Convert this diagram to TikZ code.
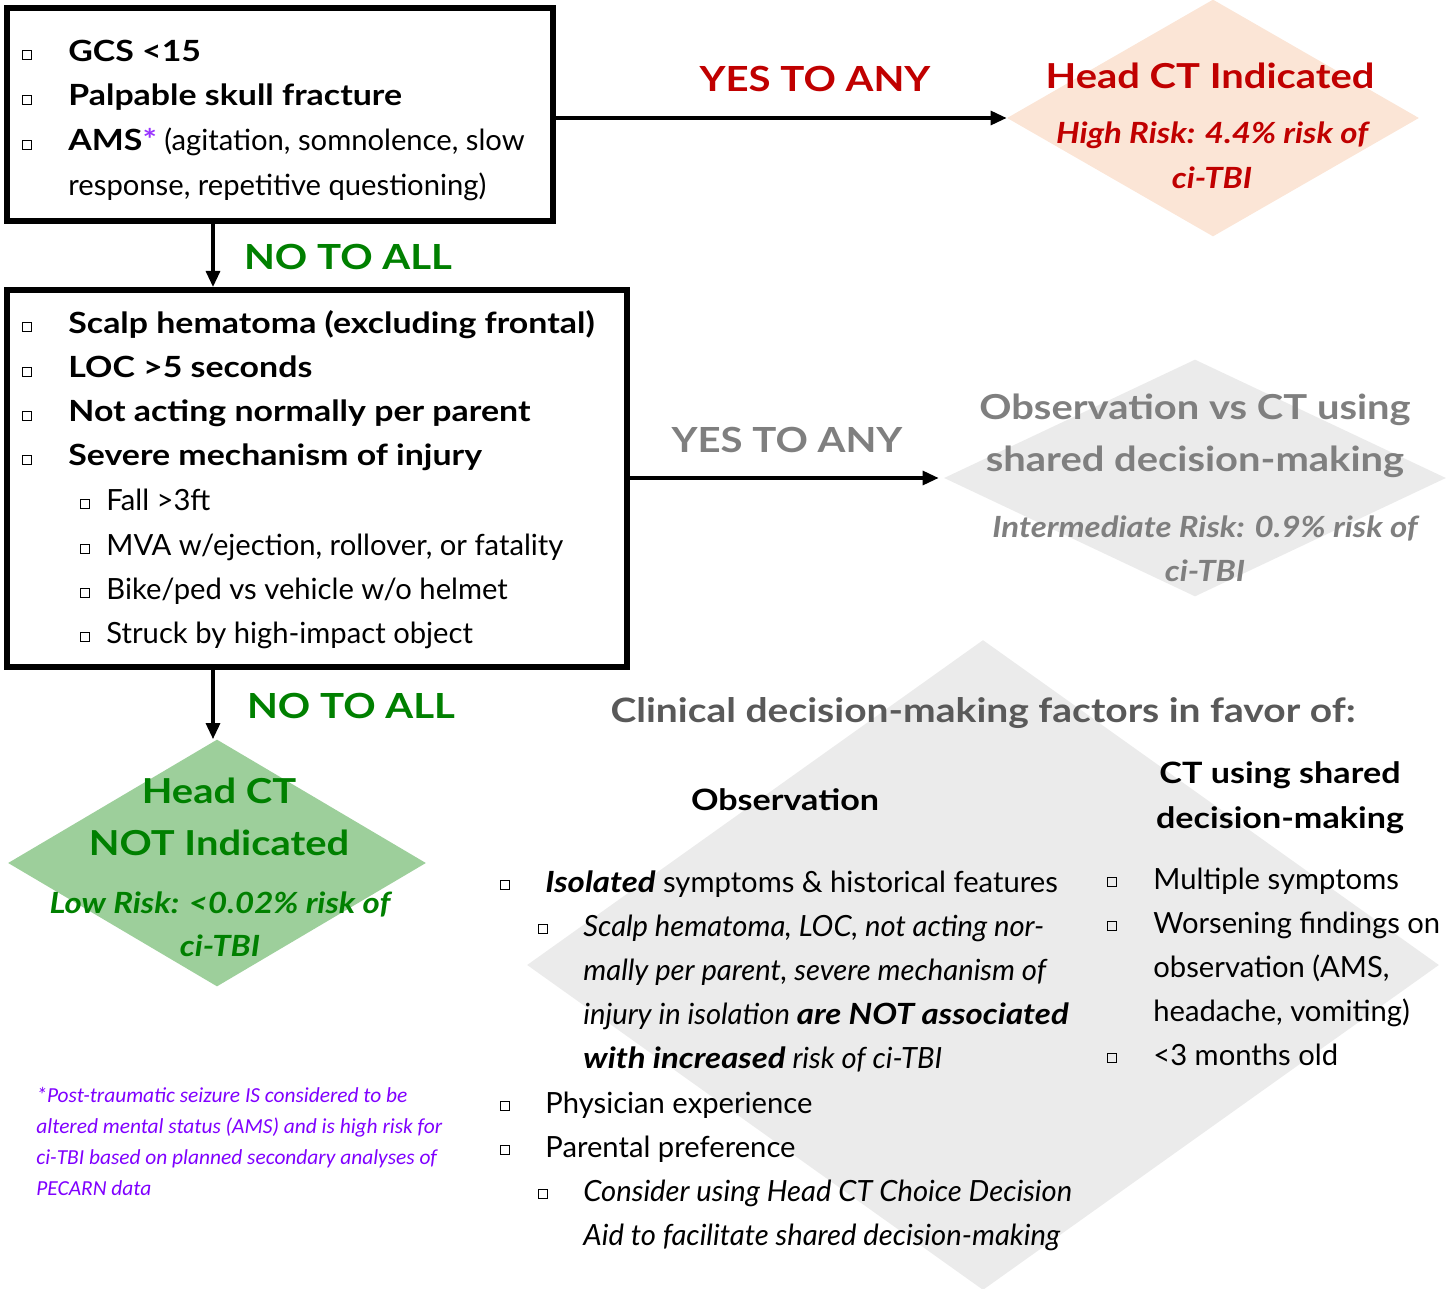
\documentclass[tikz,border=0pt]{standalone}
\usepackage{fontspec}
\setmainfont{Lato}[BoldFeatures={FakeStretch=1.16},BoldItalicFeatures={FakeStretch=1.13}]
\newfontfamily\notefont{Carlito}
\usetikzlibrary{arrows.meta,shapes.geometric}
\definecolor{hired}{HTML}{C00000}
\definecolor{peach}{HTML}{FBE5D6}
\definecolor{okgreen}{HTML}{008000}
\definecolor{greenfill}{HTML}{9DCF9B}
\definecolor{lgray}{HTML}{EBEBEB}
\definecolor{midgray}{HTML}{7F7F7F}
\definecolor{darkgray}{HTML}{595959}
\definecolor{violet}{HTML}{7F00FF}
\definecolor{star}{HTML}{9933FF}
\newcommand\tl[4]{\node[tx,#1] (#2) at (#3) {#4};}
\begin{document}
\begin{tikzpicture}[x=0.5pt,y=-0.5pt,
  tx/.style={anchor=base west,inner sep=0pt,font=\fontsize{14.6}{18}\selectfont},
  bt/.style={font=\fontsize{14.6}{18}\bfseries\selectfont},
  it/.style={font=\fontsize{14.6}{18}\itshape\selectfont},
  ctr/.style={anchor=base},
  bx/.style={draw,line width=3pt,inner sep=0pt},
  bul/.style={draw,line width=0.5pt,minimum size=4.8pt,inner sep=0pt},
  arr/.style={line width=1.6pt,-{Triangle[length=8pt,width=7pt]}},
  lab/.style={anchor=base,inner sep=0pt,font=\fontsize{17.3}{20}\bfseries\selectfont},
  dia/.style={diamond,inner sep=0pt,draw=none},
  big/.style={font=\fontsize{17.2}{20}\bfseries\selectfont},
  sub/.style={font=\fontsize{14.6}{18}\bfseries\itshape\selectfont},
  bhead/.style={font=\fontsize{14.7}{18}\bfseries\selectfont},
  note/.style={anchor=base west,inner sep=0pt,text=violet,font=\notefont\fontsize{10.7}{12}\itshape\selectfont}
]
\useasboundingbox (0,0) rectangle (1452,1289);
% diamonds
\node[dia,fill=peach,minimum width=206pt,minimum height=118.5pt] (hi) at (1213,118) {};
\node[dia,fill=lgray,minimum width=251pt,minimum height=118.5pt] (mid) at (1195,478) {};
\node[dia,fill=greenfill,minimum width=209pt,minimum height=123.5pt] (lo) at (217,863) {};
\node[dia,fill=lgray,minimum width=456pt,minimum height=325pt] (fac) at (983,965) {};
% boxes
\node[bx,minimum width=273pt,minimum height=106.5pt] (b1) at (280,114.5) {};
\node[bx,minimum width=310pt,minimum height=188.5pt] (b2) at (317,478.5) {};
\coordinate (dn) at (213,0);
% connectors
\draw[arr] (b1.east |- hi.west) -- (hi.west);
\draw[arr] (b1.south -| dn) -- (b2.north -| dn);
\draw[arr] (b2.east |- mid.west) -- ([xshift=-2.5pt]mid.west);
\draw[arr] (b2.south -| dn) -- (lo.north -| dn);
% labels
\node[lab,text=hired] (y1) at (815,92) {YES TO ANY};
\node[lab,text=midgray] (y2) at (787,452) {YES TO ANY};
\node[lab,text=okgreen] (n1) at (348,270) {NO TO ALL};
\node[lab,text=okgreen] (n2) at (351,718) {NO TO ALL};
% box 1
\foreach \n/\yy in {a/55,b/100,c/145} \node[bul] (q1\n) at (27,\yy) {};
\tl{bt}{t11}{68,62}{GCS <15}
\tl{bt}{t12}{68,106}{Palpable skull fracture}
\tl{}{t13}{68,151}{\textbf{AMS\textcolor{star}{*}} (agitation, somnolence, slow}
\tl{}{t14}{68,196}{response, repetitive questioning)}
% box 2
\foreach \n/\yy in {a/327,b/372,c/416,d/460} \node[bul] (q2\n) at (27,\yy) {};
\foreach \n/\yy in {e/504,f/549,g/593,h/637} \node[bul] (q2\n) at (85,\yy) {};
\tl{bt}{t21}{68,334}{Scalp hematoma (excluding frontal)}
\tl{bt}{t22}{68,378}{LOC >5 seconds}
\tl{bt}{t23}{68,422}{Not acting normally per parent}
\tl{bt}{t24}{68,466}{Severe mechanism of injury}
\tl{}{t25}{106,510}{Fall >3ft}
\tl{}{t26}{106,555}{MVA w/ejection, rollover, or fatality}
\tl{}{t27}{106,599}{Bike/ped vs vehicle w/o helmet}
\tl{}{t28}{106,643}{Struck by high-impact object}
% diamond texts
\node[tx,ctr,big,text=hired] (h1) at (1210,89) {Head CT Indicated};
\node[tx,ctr,sub,text=hired] (h2) at (1212,144) {High Risk: 4.4\% risk of};
\node[tx,ctr,sub,text=hired] (h3) at (1212,189) {ci-TBI};
\node[tx,ctr,big,text=midgray] (m1) at (1195,420) {Observation vs CT using};
\node[tx,ctr,big,text=midgray] (m2) at (1195,472) {shared decision-making};
\node[tx,ctr,sub,text=midgray] (m3) at (1205,537) {Intermediate Risk: 0.9\% risk of};
\node[tx,ctr,sub,text=midgray] (m4) at (1205,581) {ci-TBI};
\node[tx,ctr,big,text=okgreen] (l1) at (219,803) {Head CT};
\node[tx,ctr,big,text=okgreen] (l2) at (219,855) {NOT Indicated};
\node[tx,ctr,sub,text=okgreen] (l3) at (220,913) {Low Risk: <0.02\% risk of};
\node[tx,ctr,sub,text=okgreen] (l4) at (220,956) {ci-TBI};
% factors
\node[tx,ctr,text=darkgray,font=\fontsize{16.8}{20}\bfseries\selectfont] (f0) at (983,722) {Clinical decision-making factors in favor of:};
\node[tx,ctr,bhead] (f1) at (785,810) {Observation};
\node[tx,ctr,bhead] (f2) at (1280,783) {CT using shared};
\node[tx,ctr,bhead] (f3) at (1280,828) {decision-making};
\foreach \n/\yy in {a/885,f/1106,g/1150} \node[bul] (qo\n) at (505,\yy) {};
\foreach \n/\yy in {b/929,h/1194} \node[bul] (qo\n) at (543,\yy) {};
\tl{}{o1}{545,892}{\textbf{\textit{Isolated}} symptoms \& historical features}
\tl{it}{o2}{583,936}{Scalp hematoma, LOC, not acting nor-}
\tl{it}{o3}{583,980}{mally per parent, severe mechanism of}
\tl{it}{o4}{583,1024}{injury in isolation \textbf{are NOT associated}}
\tl{it}{o5}{583,1068}{\textbf{with increased} risk of ci-TBI}
\tl{}{o6}{545,1113}{Physician experience}
\tl{}{o7}{545,1157}{Parental preference}
\tl{it}{o8}{583,1201}{Consider using Head CT Choice Decision}
\tl{it}{o9}{583,1245}{Aid to facilitate shared decision-making}
\foreach \n/\yy in {a/882,b/926,e/1058} \node[bul] (qc\n) at (1112,\yy) {};
\tl{}{c1}{1153,889}{Multiple symptoms}
\tl{}{c2}{1153,933}{Worsening findings on}
\tl{}{c3}{1153,977}{observation (AMS,}
\tl{}{c4}{1153,1021}{headache, vomiting)}
\tl{}{c5}{1153,1065}{<3 months old}
% footnote
\node[note] (fn1) at (36,1102) {*Post-traumatic seizure IS considered to be};
\node[note] (fn2) at (36,1133) {altered mental status (AMS) and is high risk for};
\node[note] (fn3) at (36,1164) {ci-TBI based on planned secondary analyses of};
\node[note] (fn4) at (36,1195) {PECARN data};
\end{tikzpicture}
\end{document}
